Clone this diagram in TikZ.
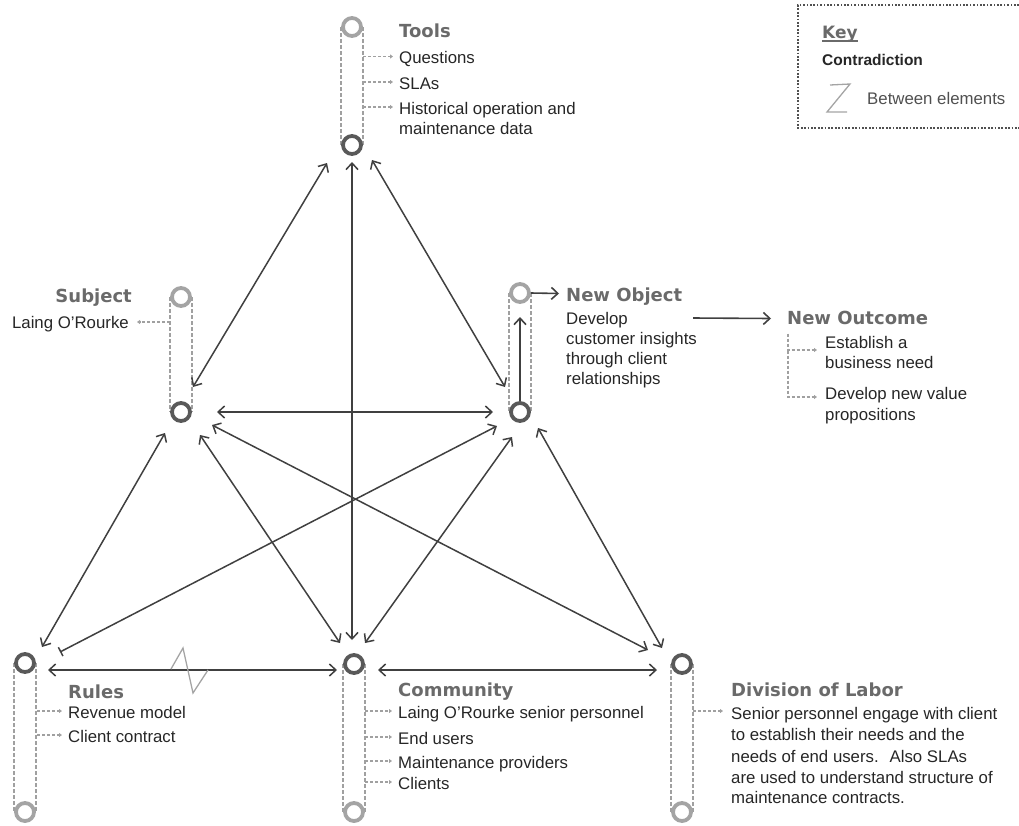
\documentclass[tikz,border=0pt]{standalone}
\usepackage{fontspec}
\setmainfont{Liberation Sans}
\newfontfamily\titlefont{DejaVu Sans}
\usetikzlibrary{arrows.meta,calc}
\definecolor{arrowgray}{HTML}{404040}
\definecolor{ringdark}{HTML}{595959}
\definecolor{ringlight}{HTML}{A4A4A4}
\definecolor{pipegray}{HTML}{A0A0A0}
\definecolor{titlegray}{HTML}{6A6A6A}
\definecolor{textdark}{HTML}{262626}
\definecolor{keygray}{HTML}{505050}
\begin{document}
\begin{tikzpicture}[x=1pt,y=-1pt,
  ring/.style={circle, draw=ringdark, line width=3.8pt, fill=white, minimum size=18pt, inner sep=0pt},
  ringl/.style={ring, draw=ringlight},
  pipe/.style={draw=pipegray, line width=1.5pt, dash pattern=on 3.5pt off 2.5pt},
  sarrow/.style={draw=pipegray, line width=1.1pt, dash pattern=on 3pt off 2pt, -{Triangle[length=3pt,width=4pt]}},
  link/.style={draw=arrowgray, line width=1.5pt, {Straight Barb[length=6.5pt,width=12pt]}-{Straight Barb[length=6.5pt,width=12pt]}},
  linkbar/.style={draw=arrowgray, line width=1.5pt, {Bar[width=10pt]}-{Straight Barb[length=6.5pt,width=12pt]}},
  oneway/.style={draw=arrowgray, line width=1.6pt, -{Straight Barb[length=6.5pt,width=12pt]}},
  ttl/.style={font=\titlefont\bfseries\fontsize{18}{20}\selectfont, text=titlegray, inner sep=0pt, anchor=base west},
  body/.style={font=\fontsize{16.8}{20}\selectfont, text=textdark, inner sep=0pt, anchor=base west},
  zig/.style={draw=ringlight, line width=1.3pt, line join=miter}
]
\useasboundingbox (0,0) rectangle (1019,825);

% circle positions
\coordinate (ptt) at (352,27);
\coordinate (ptb) at (352,145);
\coordinate (pst) at (181,297);
\coordinate (psb) at (181,412);
\coordinate (pot) at (520,293);
\coordinate (pob) at (520,412);
\coordinate (prl) at (25,663);
\coordinate (prlb) at (25,812);
\coordinate (pcm) at (354,664);
\coordinate (pcmb) at (354,812);
\coordinate (pdv) at (682,664);
\coordinate (pdvb) at (682,812);

% pipes
\foreach \a/\b in {ptt/ptb, pst/psb, pot/pob, prl/prlb, pcm/pcmb, pdv/pdvb}{
  \draw[pipe] ($(\a)+(-11,0)$) -- ($(\b)+(-11,0)$);
  \draw[pipe] ($(\a)+(11,0)$) -- ($(\b)+(11,0)$);
}

% rings
\node[ringl] (tt) at (ptt) {};
\node[ring]  (tb) at (ptb) {};
\node[ringl] (st) at (pst) {};
\node[ring]  (sb) at (psb) {};
\node[ringl] (ot) at (pot) {};
\node[ring]  (ob) at (pob) {};
\node[ring]  (rl) at (prl) {};
\node[ringl] (rlb) at (prlb) {};
\node[ring]  (cm) at (pcm) {};
\node[ringl] (cmb) at (pcmb) {};
\node[ring]  (dv) at (pdv) {};
\node[ringl] (dvb) at (pdvb) {};

% links
\draw[link] ($(tb)+(-25,18)$) -- ($(sb)+(12,-25)$);
\draw[link] ($(tb)+(20,15)$) -- ($(ob)+(-15,-25)$);
\draw[link] ($(tb)+(0,17)$) -- ($(cm)+(-2,-24)$);
\draw[link] ($(sb)+(36,0)$) -- ($(ob)+(-27,0)$);
\draw[link] ($(sb)+(-16,21)$) -- ($(rl)+(17,-16)$);
\draw[link] ($(sb)+(19,23)$) -- ($(cm)+(-14,-21)$);
\draw[link] ($(sb)+(31,13)$) -- ($(dv)+(-34,-14)$);
\draw[linkbar] ($(rl)+(35,-11)$) -- ($(ob)+(-23,14)$);
\draw[link] ($(ob)+(-8,25)$) -- ($(cm)+(11,-21)$);
\draw[link] ($(ob)+(18,16)$) -- ($(dv)+(-20,-16)$);
\draw[link] ($(rl)+(23,7)$) -- ($(cm)+(-17,6)$);
\draw[link] ($(cm)+(24,6)$) -- ($(dv)+(-25,6)$);
\draw[oneway] ($(ob)+(0,-11)$) -- ($(ot)+(0,24)$);

% contradiction zigzag
\draw[zig] (171,669) -- (183,648) -- (193,693) -- (208,670);

% Tools
\node[ttl] (toolsT) at (399,37.5) {Tools};
\node[body] (tq) at (399,63.5) {Questions};
\node[body] (ts) at (399,89) {SLAs};
\node[body] (th1) at (399,114) {Historical operation and};
\node[body] (th2) at (399,134.5) {maintenance data};
\foreach \n in {tq,ts,th1}{\draw[sarrow] ($(\n.base west)+(-36,-7)$) -- ($(\n.base west)+(-6,-7)$);}

% Subject
\node[ttl, anchor=base east] (subjT) at (132,302) {Subject};
\node[body, anchor=base east] (subj1) at (129,328) {Laing O’Rourke};
\draw[sarrow] ($(subj1.base east)+(41,-6)$) -- ($(subj1.base east)+(8,-6)$);

% New Object
\node[ttl] (nobjT) at (566,301.5) {New Object};
\node[body] (nob1) at (566,324) {Develop};
\node[body] (nob2) at (566,344) {customer insights};
\node[body] (nob3) at (566,364) {through client};
\node[body] (nob4) at (566,384) {relationships};
\draw[oneway] (ot.east) -- ($(nobjT.base west)+(-7,-8)$);

% New Outcome
\node[ttl] (noutT) at (787,324.5) {New Outcome};
\node[body] (nou1) at (825,348) {Establish a};
\node[body] (nou2) at (825,368) {business need};
\node[body] (nou3) at (825,399) {Develop new value};
\node[body] (nou4) at (825,420) {propositions};
\draw[oneway] ($(nob1.base west)+(127,-6)$) -- ($(noutT.base west)+(-16,-6)$);
\coordinate (nvtop) at ($(noutT.base west)+(1,9)$);
\draw[sarrow] (nvtop) |- ($(nou1.base west)+(-8,2)$);
\draw[sarrow] ($(nvtop)+(0,17)$) |- ($(nou3.base west)+(-8,-2)$);

% Rules
\node[ttl] (rulT) at (68,698.5) {Rules};
\node[body] (rul1) at (68,718) {Revenue model};
\node[body] (rul2) at (68,742) {Client contract};
\foreach \n in {rul1,rul2}{\draw[sarrow] ($(\n.base west)+(-31,-7)$) -- ($(\n.base west)+(-6,-7)$);}

% Community
\node[ttl] (comT) at (398,696.5) {Community};
\node[body] (com1) at (398,718) {Laing O’Rourke senior personnel};
\node[body] (com2) at (398,744) {End users};
\node[body] (com3) at (398,768) {Maintenance providers};
\node[body] (com4) at (398,789) {Clients};
\foreach \n in {com1,com2,com3,com4}{\draw[sarrow] ($(\n.base west)+(-33,-7)$) -- ($(\n.base west)+(-6,-7)$);}

% Division of Labor
\node[ttl] (divT) at (731,696.5) {Division of Labor};
\node[body] (dv1) at (731,719) {Senior personnel engage with client};
\node[body] (dv2) at (731,740) {to establish their needs and the};
\node[body] (dv3) at (731,762) {needs of end users.~ Also SLAs};
\node[body] (dv4) at (731,783) {are used to understand structure of};
\node[body] (dv5) at (731,803) {maintenance contracts.};
\draw[sarrow] ($(dv1.base west)+(-38,-8)$) -- ($(dv1.base west)+(-8,-8)$);

% Key
\draw[draw=keygray, line width=1.7pt, dash pattern=on 1.7pt off 1.7pt] (1019,5) -- (798,5) -- (798,128) -- (1019,128);
\node[ttl, font=\titlefont\bfseries\fontsize{17}{20}\selectfont] (keyT) at (822,38) {Key};
\draw[draw=titlegray, line width=1.2pt] ($(keyT.base west)+(0,3)$) -- ($(keyT.base east)+(0,3)$);
\node[body, font=\bfseries\fontsize{15.5}{18}\selectfont, text=black!85] (contr) at (822,65.5) {Contradiction};
\draw[zig] (830,85) -- (850,84) -- (827,112) -- (847,112);
\node[body, text=keygray] (betw) at (867,104) {Between elements};
\end{tikzpicture}
\end{document}
